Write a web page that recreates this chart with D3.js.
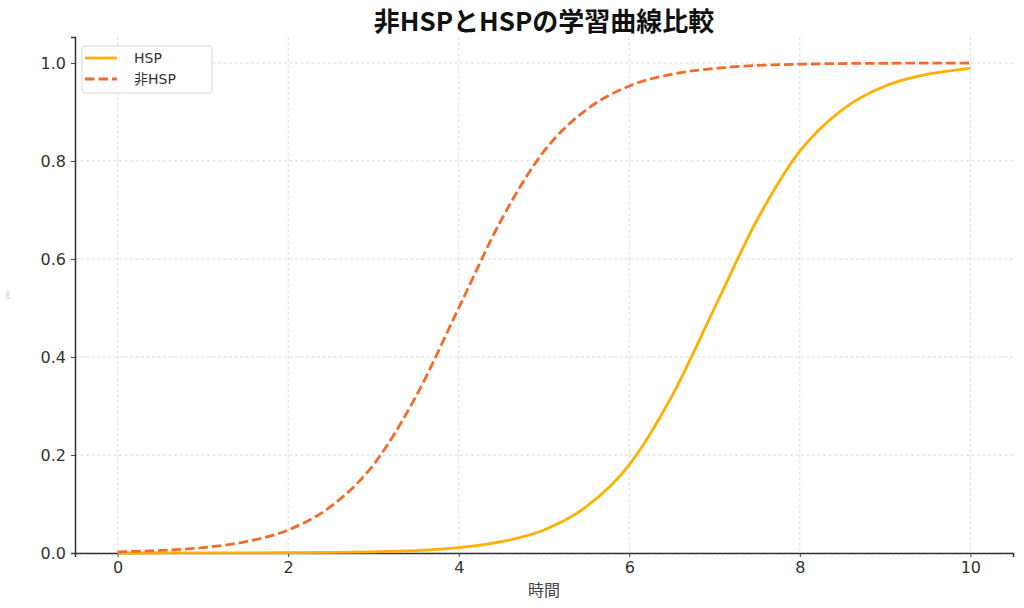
<!DOCTYPE html>
<html><head><meta charset="utf-8">
<script src="https://cdn.jsdelivr.net/npm/d3@7"></script>
<style>body{margin:0;background:#fff}svg{display:block}</style>
</head><body>
<script>
const title = "非HSPとHSPの学習曲線比較";
const xLabel = "時間";
const yLabel = "習熟度";
const seriesNames = ["HSP", "非HSP"];
const xValues = [0,0.5,1,1.5,2,2.5,3,3.5,4,4.5,5,5.5,6,6.5,7,7.5,8,8.5,9,9.5,10];
const hspValues = [0.00003,0.00006,0.0001,0.0003,0.0006,0.0012,0.0025,0.005,0.011,0.023,0.047,0.095,0.18,0.32,0.50,0.68,0.82,0.905,0.953,0.977,0.989];
const nonHspValues = [0.0025,0.0052,0.011,0.023,0.047,0.095,0.18,0.32,0.50,0.68,0.82,0.905,0.953,0.977,0.989,0.995,0.9975,0.9988,0.9994,0.9997,0.9999];
const xTicks = [0,2,4,6,8,10];
const yTicks = [0,0.2,0.4,0.6,0.8,1.0];

const W=1024,H=608;
const m={left:75,right:1013,top:37,bottom:553};
const svg=d3.select("body").append("svg").attr("width",W).attr("height",H);
const x=d3.scaleLinear().domain([-0.5,10.5]).range([m.left,m.right]);
const y=d3.scaleLinear().domain([0,1.053]).range([m.bottom,m.top]);

// grid
const g=svg.append("g");
g.selectAll(".gx").data(xTicks).join("line")
 .attr("x1",d=>x(d)).attr("x2",d=>x(d)).attr("y1",m.top).attr("y2",m.bottom)
 .attr("stroke","#d0d0d0").attr("stroke-width",0.8).attr("stroke-dasharray","3,2.5");
g.selectAll(".gy").data(yTicks).join("line")
 .attr("y1",d=>y(d)).attr("y2",d=>y(d)).attr("x1",m.left).attr("x2",m.right)
 .attr("stroke","#d0d0d0").attr("stroke-width",0.8).attr("stroke-dasharray","3,2.5");

// axes
const font="DejaVu Sans, sans-serif";
const xa=svg.append("g").attr("transform",`translate(0,${m.bottom})`)
 .call(d3.axisBottom(x).tickValues(xTicks).tickFormat(d3.format("d")).tickSizeOuter(0).tickSize(4).tickPadding(5));
const ya=svg.append("g").attr("transform",`translate(${m.left},0)`)
 .call(d3.axisLeft(y).tickValues(yTicks).tickFormat(d3.format(".1f")).tickSizeOuter(0).tickSize(4).tickPadding(5));
[xa,ya].forEach(a=>{
 a.select(".domain").attr("stroke","#333").attr("stroke-width",1.5);
 a.selectAll(".tick line").attr("stroke","#444").attr("stroke-width",1);
 a.selectAll("text").attr("font-family",font).attr("font-size",16).attr("fill","#333");
});

// lines
const line=d3.line().x((d,i)=>x(xValues[i])).y(d=>y(d)).curve(d3.curveMonotoneX);
svg.append("path").datum(hspValues).attr("d",line).attr("fill","none")
 .attr("stroke","#FFAF00").attr("stroke-width",2.8);
svg.append("path").datum(nonHspValues).attr("d",line).attr("fill","none")
 .attr("stroke","#F26B2A").attr("stroke-width",2.8).attr("stroke-dasharray","9.5,4");

// title
svg.append("text").attr("x",(m.left+m.right)/2).attr("y",31).attr("text-anchor","middle")
 .attr("font-family","Noto Sans CJK JP, sans-serif").attr("font-weight","bold").attr("font-size",26)
 .attr("fill","#111").text(title);
// x label
svg.append("text").attr("x",(m.left+m.right)/2).attr("y",596).attr("text-anchor","middle")
 .attr("font-family","Noto Sans CJK JP, sans-serif").attr("font-size",16).attr("fill","#444").text(xLabel);
// y label (tiny in reference)
svg.append("text").attr("transform",`translate(9,${(m.top+m.bottom)/2}) rotate(-90)`).attr("text-anchor","middle")
 .attr("font-family","Noto Sans CJK JP, sans-serif").attr("font-size",3).attr("fill","#bbb").text(yLabel);

// legend
const lg=svg.append("g");
lg.append("rect").attr("x",82).attr("y",46).attr("width",130).attr("height",47).attr("rx",3)
 .attr("fill","#fff").attr("fill-opacity",0.85).attr("stroke","#d8d8d8").attr("stroke-width",1);
const items=[{n:seriesNames[0],c:"#FFAF00",d:null},{n:seriesNames[1],c:"#F26B2A",d:"9.5,4"}];
items.forEach((it,i)=>{
 const yy=58+i*21;
 lg.append("line").attr("x1",85).attr("x2",117).attr("y1",yy).attr("y2",yy)
  .attr("stroke",it.c).attr("stroke-width",2.8).attr("stroke-dasharray",it.d);
 lg.append("text").attr("x",134).attr("y",yy+5).attr("font-family","DejaVu Sans, Noto Sans CJK JP, sans-serif")
  .attr("font-size",14).attr("fill","#333").text(it.n);
});
</script>
</body></html>
